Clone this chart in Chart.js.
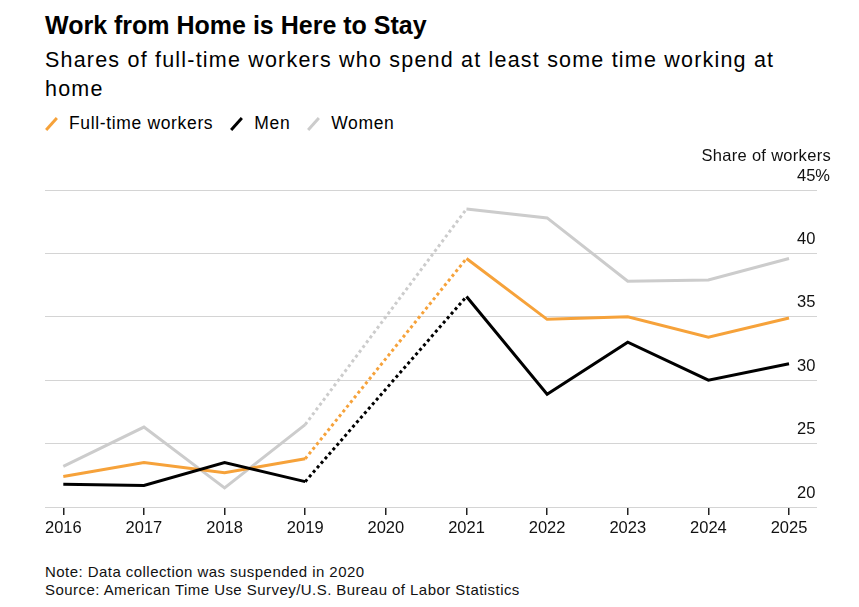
<!DOCTYPE html>
<html>
<head>
<meta charset="utf-8">
<script src="https://cdn.jsdelivr.net/npm/chart.js@4.4.1/dist/chart.umd.min.js"></script>
<style>
  body { margin: 0; width: 859px; height: 607px; background: #fff; position: relative; overflow: hidden;
         font-family: "Liberation Sans", Arial, sans-serif; color: #000; }
  .abs { position: absolute; white-space: nowrap; }
  #title { left: 45px; top: 13px; font-size: 25px; line-height: 25px; font-weight: bold; }
  #subtitle { left: 45px; top: 46px; font-size: 21.5px; line-height: 29px; letter-spacing: 1.2px; }
  #legend { left: 45px; top: 115px; font-size: 17.5px; line-height: 17px; letter-spacing: 0.65px; }
  #legend .item { display: inline-block; margin-right: 17px; }
  #legend .mark { display: inline-block; width: 3px; height: 16px; margin: 0 16px 0 5px; vertical-align: -3px;
                  transform: rotate(42deg); }
  #axisTitle { right: 28px; top: 147px; font-size: 16.5px; line-height: 17px; letter-spacing: 0.3px; color: #111; }
  #notes { left: 45px; top: 563px; font-size: 15px; line-height: 18px; letter-spacing: 0.45px; color: #111; }
  #wrap { position: absolute; left: 0; top: 140px; width: 859px; height: 400px; }
</style>
</head>
<body>
<div id="title" class="abs">Work from Home is Here to Stay</div>
<div id="subtitle" class="abs">Shares of full-time workers who spend at least some time working at<br>home</div>
<div id="legend" class="abs"></div>
<div id="wrap"><canvas id="Chart"></canvas></div>
<div id="axisTitle" class="abs">Share of workers</div>
<div id="notes" class="abs">Note: Data collection was suspended in 2020<br>Source: American Time Use Survey/U.S. Bureau of Labor Statistics</div>
<script>
const years = [2016, 2017, 2018, 2019, 2020, 2021, 2022, 2023, 2024, 2025];
const fullTime = [22.4, 23.5, 22.7, 23.8, null, 39.6, 34.8, 35.0, 33.4, 34.9];
const men = [21.8, 21.7, 23.5, 22.0, null, 36.6, 28.9, 33.0, 30.0, 31.3];
const women = [23.2, 26.3, 21.5, 26.5, null, 43.5, 42.8, 37.8, 37.9, 39.6];
const yTicks = [20, 25, 30, 35, 40, 45];

const seriesNames = ["Full-time workers", "Men", "Women"];
const seriesColors = ["#f6a23a", "#000000", "#cccccc"];

Chart.defaults.font.family = '"Liberation Sans", Arial, sans-serif';

function makeSeries(label, values, color, order) {
  return {
    label: label,
    order: order,
    data: values.map((v, i) => ({ x: years[i], y: v })),
    borderColor: color,
    borderWidth: 3,
    pointRadius: 0,
    tension: 0,
    spanGaps: true,
    segment: {
      // dotted across the missing year
      borderDash: (ctx) => (ctx.p0.skip || ctx.p1.skip ? [3, 3] : undefined),
    },
  };
}

// legend
var legend = document.getElementById("legend");
seriesNames.forEach(function (name, i) {
  var item = document.createElement("span");
  item.className = "item";
  var mark = document.createElement("span");
  mark.className = "mark";
  mark.style.background = seriesColors[i];
  item.appendChild(mark);
  item.appendChild(document.createTextNode(name));
  legend.appendChild(item);
});

var ctx = document.getElementById("Chart").getContext("2d");
window.myChart = new Chart(ctx, {
  type: "line",
  data: {
    datasets: [
      makeSeries(seriesNames[0], fullTime, seriesColors[0], 2),
      makeSeries(seriesNames[1], men, seriesColors[1], 1),
      makeSeries(seriesNames[2], women, seriesColors[2], 3),
    ],
  },
  options: {
    animation: false,
    responsive: true,
    maintainAspectRatio: false,
    layout: { padding: { top: 50, left: 45, right: 42, bottom: 3 } },
    plugins: { legend: { display: false }, tooltip: { enabled: false } },
    scales: {
      x: {
        type: "linear",
        min: 2015.773,
        max: 2025.347,
        afterBuildTicks: (axis) => { axis.ticks = years.map((v) => ({ value: v })); },
        afterFit: (axis) => { axis.height = 30; },
        border: { display: false },
        grid: {
          drawOnChartArea: false,
          drawTicks: true,
          tickLength: 8,
          color: "#222",
          lineWidth: 1.5,
          tickColor: "#222",
          tickWidth: 1.5,
        },
        ticks: {
          padding: 4,
          color: "#111",
          autoSkip: false,
          maxRotation: 0,
          font: { size: 16.5 },
          callback: (v) => String(v),
        },
      },
      y: {
        position: "right",
        min: 20,
        max: 45,
        afterBuildTicks: (axis) => { axis.ticks = yTicks.map((v) => ({ value: v })); },
        afterFit: (axis) => { axis.width = 0; },
        border: { display: false },
        grid: { color: "#d4d4d4", lineWidth: 1, drawTicks: false },
        ticks: {
          mirror: true,
          crossAlign: "far",
          padding: 13,
          labelOffset: -14,
          color: "#111",
          font: { size: 16.5 },
          callback: (v) => (v === 45 ? "45%" : String(v)),
        },
      },
    },
  },
});
</script>
</body>
</html>
